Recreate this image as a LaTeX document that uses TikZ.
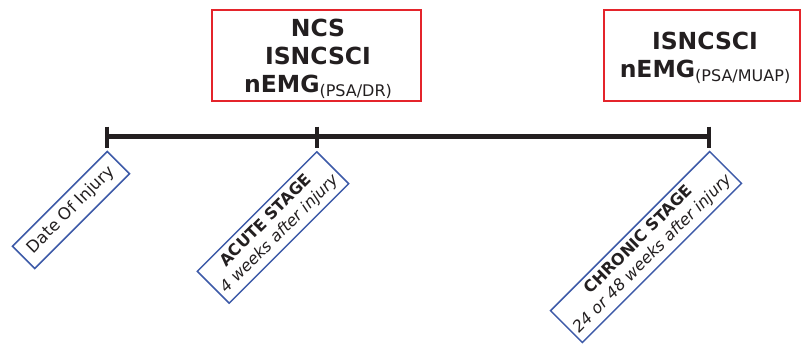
\documentclass[tikz,border=0pt]{standalone}
\usepackage{fontspec}
\setmainfont{DejaVu Sans}
\definecolor{boxred}{HTML}{E4242B}
\definecolor{boxblue}{HTML}{3D5AA8}
\definecolor{ink}{HTML}{231F20}
\newcommand{\subtxt}[1]{\raisebox{-4pt}{\fontsize{16}{16}\selectfont\mdseries #1}}
\begin{document}
\begin{tikzpicture}[x=1pt,y=-1pt,
  redbox/.style={draw=boxred, line width=2pt, inner sep=0pt},
  redtext/.style={inner sep=0pt, align=center, text=ink,
    font=\fontsize{23.5}{28}\selectfont\bfseries},
  bluebox/.style={draw=boxblue, line width=1.5pt, inner sep=0pt, align=center, text=ink,
    rotate=45, font=\fontsize{16}{19}\selectfont},
  timeline/.style={line width=5pt, draw=ink},
  tick/.style={line width=4pt, draw=ink}]
\useasboundingbox (0,0) rectangle (801,343);
% timeline
\coordinate (t0) at (107,136.5);
\coordinate (t1) at (317,136.5);
\coordinate (t2) at (709,136.5);
\draw[timeline] (t0) -- (t2);
\foreach \t in {t0,t1,t2}{
  \draw[tick] ([yshift=10pt]\t) -- ([yshift=-11.5pt]\t);
}
% red boxes
\node[redbox, minimum width=209pt, minimum height=91pt] (acuteTests) at (316.5,55.5) {};
\node[redtext] (acuteTestsText) at (318,59)
  {NCS\\ISNCSCI\\nEMG\subtxt{(PSA/DR)}};
\node[redbox, minimum width=196pt, minimum height=91pt] (chronicTests) at (702,55.5) {};
\node[redtext] (chronicTestsText) at (705,58)
  {ISNCSCI\\nEMG\subtxt{(PSA/MUAP)}};
% blue rotated boxes
\node[bluebox, minimum width=134pt, minimum height=31.5pt, font=\fontsize{16.5}{19}\selectfont] (doi) at (71,210)
  {Date Of Injury};
\node[bluebox, minimum width=169pt, minimum height=45pt] (acute) at (273,227.5)
  {\textbf{ACUTE STAGE}\\\textit{4 weeks after injury}};
\node[bluebox, minimum width=225pt, minimum height=45pt] (chronic) at (646,247)
  {\textbf{CHRONIC STAGE}\\\textit{24 or 48 weeks after injury}};
\end{tikzpicture}
\end{document}
